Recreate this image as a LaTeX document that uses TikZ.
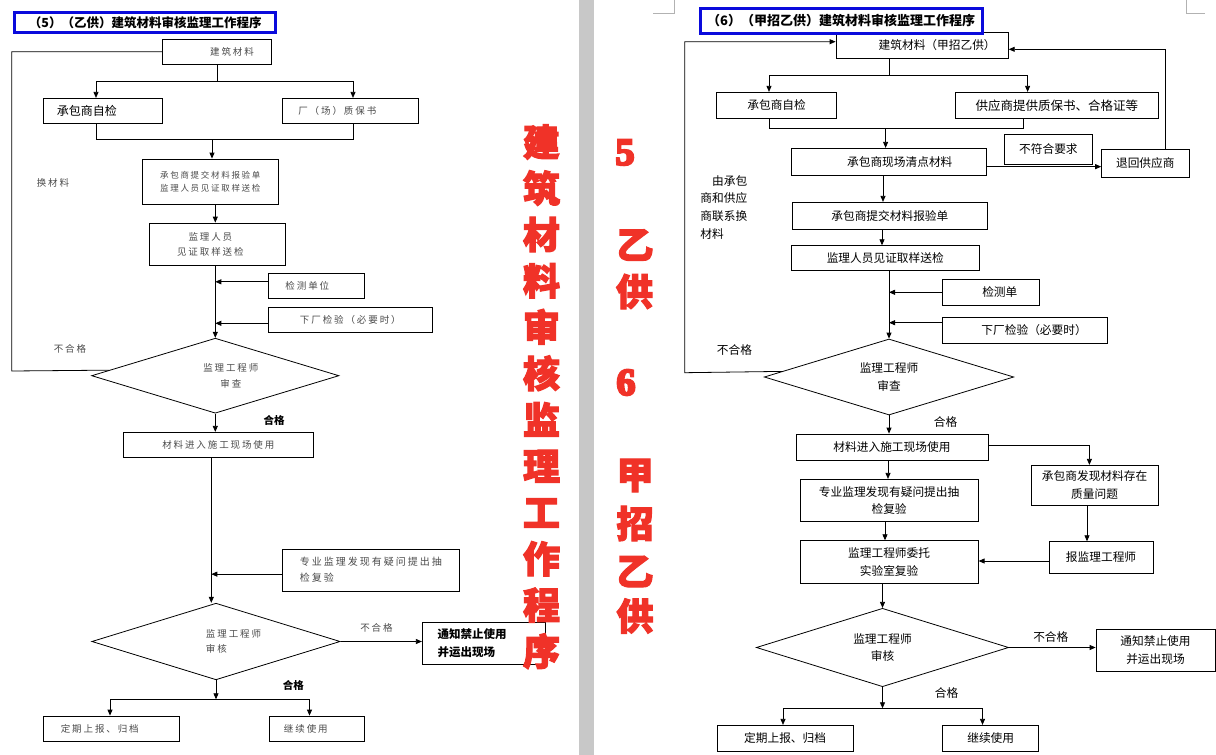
\documentclass[tikz,border=0pt]{standalone}
\usepackage{fontspec}
\newfontfamily\cjk{Noto Sans CJK SC}
\newfontfamily\cjkls{Noto Sans CJK SC}[LetterSpace=20]
\newfontfamily\cjkred{Noto Sans CJK SC}[BoldFeatures={FakeBold=3}]
\newfontfamily\serifnum{Liberation Serif}[BoldFeatures={FakeBold=6}]
\usetikzlibrary{arrows.meta,shapes.geometric}
\definecolor{redtxt}{RGB}{240,50,40}
\definecolor{titleblue}{RGB}{10,10,220}
\definecolor{lgray}{RGB}{75,75,75}
\definecolor{barg}{RGB}{200,200,200}
\newcommand\mkbox[7][]{\node[box,#1,minimum width={(#5-#3)*1pt},minimum height={(#6-#4)*1pt}] (#2) at ({(#3+#5)/2},{(#4+#6)/2}) {#7};}
\begin{document}
\begin{tikzpicture}[x=1pt,y=-1pt,line width=0.8pt,
 box/.style={draw,inner sep=0pt,align=center},
 lt/.style={font=\cjkls\fontsize{9.5}{15}\selectfont,text=lgray},
 rt/.style={font=\cjk\fontsize{11.7}{17.6}\selectfont},
 lbold/.style={font=\cjk\bfseries\fontsize{10.5}{12}\selectfont},
 arr/.style={-{Triangle[length=6pt,width=5pt]}},
 dia/.style={draw,diamond,inner sep=0pt,align=center},
 lbl/.style={inner sep=0pt,align=center},
 red/.style={inner sep=0pt,align=center,text=redtxt,font=\cjkred\bfseries\fontsize{37}{46.3}\selectfont},
 rnum/.style={inner sep=0pt,text=redtxt,font=\serifnum\bfseries\fontsize{38}{40}\selectfont}]
\useasboundingbox (0,0) rectangle (1216,755);
\fill[white] (0,0) rectangle (1216,755);
\fill[barg] (579,0) rectangle (594.3,755);
\draw[black!30,line width=0.6pt] (653.3,13.3) -- (674.3,13.3) -- (674.3,0);
\draw[black!30,line width=0.6pt] (1186,0) -- (1186,13.3) -- (1205,13.3);

% ---------------- left diagram ----------------
\mkbox[lt]{La}{162.3}{39.3}{271.7}{64.3}{\hspace*{30pt}建筑材料}
\mkbox[font=\cjk\fontsize{12}{14}\selectfont]{Lb}{43.3}{98.3}{162.3}{123.3}{承包商自检\hspace*{32pt}}
\mkbox[lt]{Lc}{282.3}{98.3}{418.3}{123.3}{厂（场）质保书\hspace*{26pt}}
\mkbox[lt,font=\cjkls\fontsize{8.5}{12.3}\selectfont]{Ld}{142.3}{159}{278.3}{204.3}{承包商提交材料报验单\\监理人员见证取样送检}
\mkbox[lt]{Le}{149}{223}{285.7}{265.3}{监理人员\hspace*{14pt}\\见证取样送检\hspace*{14pt}}
\mkbox[lt]{Lf}{268.3}{273.3}{364.3}{298.3}{检测单位\hspace*{18pt}}
\mkbox[lt]{Lg}{268.3}{307.3}{432.3}{332.3}{下厂检验（必要时）}
\node[dia,aspect=3.297,lt,font=\cjkls\fontsize{9.5}{16}\selectfont,minimum width=247.3pt,minimum height=75pt] (Lh) at (215.3,375.7) {\hspace*{31pt}监理工程师\\\hspace*{31pt}审查};
\mkbox[lt]{Li}{123.3}{432.3}{313.3}{457.3}{材料进入施工现场使用}
\mkbox[lt,align=left,font=\cjkls\fontsize{10}{16}\selectfont]{Lj}{282.3}{549.3}{459.3}{591}{专业监理发现有疑问提出抽\\检复验}
\node[dia,aspect=3.24,lt,align=left,font=\cjkls\fontsize{9.5}{14.7}\selectfont,minimum width=248.3pt,minimum height=76.6pt] (Lk) at (216,641.5) {\hspace*{35pt}监理工程师\\\hspace*{35pt}审核};
\mkbox[align=left,font=\cjk\bfseries\fontsize{11.5}{17.3}\selectfont]{Ll}{422.3}{622.3}{545.7}{664}{通知禁止使用\hspace*{24pt}\\并运出现场}
\mkbox[lt]{Lm}{43.3}{716}{179.3}{741}{定期上报、归档\hspace*{23pt}}
\mkbox[lt]{Ln}{269.3}{716}{364.3}{741}{继续使用\hspace*{22pt}}
\node[lt,lbl] (Lx1) at (53,183) {换材料};
\node[lt,lbl] (Lx2) at (70,349) {不合格};
\node[lbold,lbl] (Lx3) at (274,420) {合格};
\node[lt,lbl] (Lx4) at (376.5,627.7) {不合格};
\node[lbold,lbl] (Lx5) at (293.3,685) {合格};

\coordinate (Ls1) at (96,81); \coordinate (Ls2) at (353,81);
\draw (La.south) -- (La.south |- Ls1);
\draw (Ls1) -- (Ls2);
\draw[arr] (Ls1) -- (Ls1 |- Lb.north);
\draw[arr] (Ls2) -- (Ls2 |- Lc.north);
\coordinate (Lm1) at (96,139); \coordinate (Lm2) at (353,139);
\draw (Lm1 |- Lb.south) -- (Lm1) -- (Lm2) -- (Lm2 |- Lc.south);
\coordinate (Lv1) at (212,0);
\draw[arr] (Lv1 |- Lm1) -- (Lv1 |- Ld.north);
\draw[arr] (Ld.south -| Lh.north) -- (Le.north -| Lh.north);
\draw[arr] (Le.south -| Lh.north) -- (Lh.north);
\draw[arr] ([yshift=4pt]Lf.west) -- ([yshift=4pt]Lf.west -| Lh.north);
\draw[arr] ([yshift=-3.5pt]Lg.west) -- ([yshift=-3.5pt]Lg.west -| Lh.north);
\coordinate (Lloop) at (11.7,371);
\draw (Lh.177.5) -- (Lloop) -- (Lloop |- La.west) -- (La.west);
\draw[arr] (Lh.south) -- (Lh.south |- Li.north);
\coordinate (Lv2) at (211.3,0);
\draw[arr] (Lv2 |- Li.south) -- (Lv2 |- Lk.north);
\draw[arr] ([yshift=-4pt]Lj.west) -- ([yshift=-4pt]Lj.west -| Lv2);
\draw[arr] (Lk.east) -- (Lk.east -| Ll.west);
\coordinate (Lb1) at (110,699.3); \coordinate (Lb2) at (309.5,699.3);
\draw[arr] (Lk.south) -- (Lk.south |- Lb1);
\draw (Lb1) -- (Lb2);
\draw[arr] (Lb1) -- (Lb1 |- Lm.north);
\draw[arr] (Lb2) -- (Lb2 |- Ln.north);

% ---------------- right diagram ----------------
\mkbox[rt]{Ra}{836}{32.3}{1008.3}{58.3}{\hspace*{30pt}建筑材料（甲招乙供）}
\mkbox[rt]{Rb}{716.7}{92.3}{836.5}{118.3}{承包商自检}
\mkbox[rt,font=\cjk\fontsize{12.5}{14}\selectfont]{Rc}{955.8}{92.3}{1158}{118.3}{供应商提供质保书、合格证等}
\mkbox[rt]{Rd}{1004}{134.3}{1092.8}{164.3}{不符合要求}
\mkbox[rt]{Re}{791.5}{148.3}{986}{175}{\hspace*{22pt}承包商现场清点材料}
\mkbox[rt]{Rf}{1101.6}{149.3}{1189}{177.3}{退回供应商}
\node[rt,lbl,anchor=north west,align=left] (Rg) at (700,175) {\hspace*{11.7pt}由承包\\商和供应\\商联系换\\材料};
\mkbox[rt]{Rh}{792.4}{202.3}{987.3}{229.3}{承包商提交材料报验单}
\mkbox[rt]{Ri}{791.5}{245.7}{979}{270}{监理人员见证取样送检}
\mkbox[rt]{Rj}{942.6}{279.3}{1039}{305.3}{\hspace*{18pt}检测单}
\mkbox[rt]{Rk}{942.6}{317.3}{1107.6}{343.3}{\hspace*{18pt}下厂检验（必要时）}
\node[dia,aspect=3.28,rt,minimum width=249.5pt,minimum height=76pt] (Rl) at (889,377) {监理工程师\\审查};
\node[rt,lbl] (Ry1) at (734.5,350) {不合格};
\node[rt,lbl] (Ry2) at (945.6,422.3) {合格};
\mkbox[rt]{Rm}{796}{434}{987.9}{460.7}{材料进入施工现场使用}
\mkbox[rt]{Rn}{1031.3}{465.3}{1157.9}{505.3}{承包商发现材料存在\\质量问题}
\mkbox[rt]{Ro}{800}{479.3}{978.2}{521.7}{专业监理发现有疑问提出抽\\检复验}
\mkbox[rt]{Rp}{800}{540.7}{978.2}{583.3}{监理工程师委托\\实验室复验}
\mkbox[rt]{Rq}{1049.2}{541.7}{1152.9}{573.3}{报监理工程师}
\node[dia,aspect=3.22,rt,minimum width=252.3pt,minimum height=78.4pt] (Rr) at (882.5,647.5) {监理工程师\\审核};
\node[rt,lbl] (Ry3) at (1050.8,636.7) {不合格};
\mkbox[rt]{Rs}{1096}{629}{1215}{671.7}{通知禁止使用\\并运出现场}
\node[rt,lbl] (Ry4) at (946.5,692.7) {合格};
\mkbox[rt]{Rt}{717}{725.3}{853.2}{751.7}{定期上报、归档}
\mkbox[rt]{Ru}{942.6}{725.3}{1038.8}{751.7}{继续使用}

\coordinate (RL) at (684.8,372.7);
\draw[arr] (Rl.177.8) -- (RL) |- ([yshift=3.6pt]Ra.west);
\coordinate (RR) at (1165,49.3);
\draw[arr] (RR |- Rf.north) -- (RR) -- (RR -| Ra.east);
\coordinate (Rs1) at (769,75.3); \coordinate (Rs2) at (1027.6,75.3); \coordinate (Rsx) at (889.8,75.3);
\draw (Rsx |- Ra.south) -- (Rsx);
\draw (Rs1) -- (Rs2);
\draw[arr] (Rs1) -- (Rs1 |- Rb.north);
\draw[arr] (Rs2) -- (Rs2 |- Rc.north);
\coordinate (Rm1) at (769,128.3); \coordinate (Rm2) at (1023,128.3);
\draw (Rm1 |- Rb.south) -- (Rm1) -- (Rm2) -- (Rm2 |- Rc.south);
\coordinate (Rv0) at (885.6,0);
\draw[arr] (Rv0 |- Rm1) -- (Rv0 |- Re.north);
\draw[arr] ([yshift=-5pt]Re.east) -- ([yshift=-5pt]Re.east -| Rf.west);
\coordinate (Rv1) at (883,0);
\draw[arr] (Rv1 |- Re.south) -- (Rv1 |- Rh.north);
\coordinate (Rv2) at (882,0);
\draw[arr] (Rv2 |- Rh.south) -- (Rv2 |- Ri.north);
\draw[arr] (Ri.south -| Rl.north) -- (Rl.north);
\draw[arr] (Rj.west) -- (Rj.west -| Rl.north);
\draw[arr] ([yshift=7.6pt]Rk.west) -- ([yshift=7.6pt]Rk.west -| Rl.north);
\draw[arr] (Rl.south) -- (Rl.south |- Rm.north);
\coordinate (Rc1) at (1089.4,445.7);
\draw[arr] (Rm.east |- Rc1) -- (Rc1) -- (Rc1 |- Rn.north);
\coordinate (Rv3) at (888,0);
\draw[arr] (Rv3 |- Rm.south) -- (Rv3 |- Ro.north);
\coordinate (Rv4) at (885,0);
\draw[arr] (Rv4 |- Ro.south) -- (Rv4 |- Rp.north);
\coordinate (Rv5) at (1087,0);
\draw[arr] (Rv5 |- Rn.south) -- (Rv5 |- Rq.north);
\draw[arr] ([yshift=-3.5pt]Rq.west) -- ([yshift=-3.5pt]Rq.west -| Rp.east);
\draw[arr] (Rp.south -| Rr.north) -- (Rr.north);
\draw[arr] (Rr.east) -- (Rr.east -| Rs.west);
\coordinate (Rb1) at (783,708.3); \coordinate (Rb2) at (982.5,708.3);
\draw[arr] (Rr.south) -- (Rr.south |- Rb1);
\draw (Rb1) -- (Rb2);
\draw[arr] (Rb1) -- (Rb1 |- Rt.north);
\draw[arr] (Rb2) -- (Rb2 |- Ru.north);

% ---------------- titles ----------------
\node[draw=titleblue,line width=3pt,inner sep=0pt,minimum width=260.7pt,minimum height=20.3pt,font=\cjk\bfseries\fontsize{12.5}{14}\selectfont] (Lt) at (145.2,22.35) {（5）（乙供）建筑材料审核监理工作程序};
\node[draw=titleblue,line width=3pt,inner sep=0pt,minimum width=281.8pt,minimum height=24.4pt,font=\cjk\bfseries\fontsize{13}{15}\selectfont] (Rt0) at (841.1,21) {（6）（甲招乙供）建筑材料审核监理工作程序};

% ---------------- red side text ----------------
\node[red] (Red1) at (541.5,396.7) {建\\筑\\材\\料\\审\\核\\监\\理\\工\\作\\程\\序};
\node[rnum] (Red5) at (625,152.5) {5};
\node[red] (Red2) at (635,245) {乙};
\node[red] (Red3) at (634.5,291.5) {供};
\node[rnum] (Red6) at (626,382.5) {6};
\node[red] (Red7) at (635,475.5) {甲};
\node[red] (Red8) at (635,523.5) {招};
\node[red] (Red9) at (635,571.5) {乙};
\node[red] (Red10) at (635,616) {供};
\end{tikzpicture}
\end{document}
